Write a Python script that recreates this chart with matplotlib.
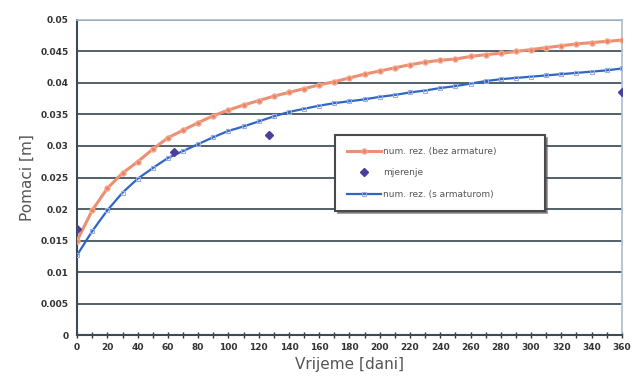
import numpy as np
import matplotlib
matplotlib.use('Agg')
import matplotlib.pyplot as plt
from matplotlib.ticker import MultipleLocator

# Time steps of the numerical results [days]
days = list(range(0, 361, 10))

# Displacement without reinforcement [m]
bez_armature = [0.0150, 0.0198, 0.0233, 0.0257, 0.0275, 0.0295, 0.0313, 0.0325,
                0.0337, 0.0348, 0.0357, 0.0365, 0.0372, 0.0379, 0.0385, 0.0391,
                0.0397, 0.0402, 0.0408, 0.0414, 0.0419, 0.0424, 0.0429, 0.0433,
                0.0436, 0.0438, 0.0442, 0.0445, 0.0447, 0.0450, 0.0453, 0.0456,
                0.0459, 0.0462, 0.0464, 0.0466, 0.0468]

# Displacement with reinforcement [m]
s_armaturom = [0.0127, 0.0165, 0.0198, 0.0226, 0.0248, 0.0265, 0.0281, 0.0292,
               0.0303, 0.0314, 0.0324, 0.0331, 0.0339, 0.0347, 0.0354, 0.0359,
               0.0364, 0.0368, 0.0371, 0.0374, 0.0378, 0.0381, 0.0385, 0.0388,
               0.0392, 0.0395, 0.0399, 0.0403, 0.0406, 0.0408, 0.0410, 0.0412,
               0.0414, 0.0416, 0.0418, 0.0420, 0.0423]

# Field measurements
mjerenje_dani = [0, 64, 127, 360]
mjerenje = [0.0168, 0.0291, 0.0317, 0.0386]

fig = plt.figure(figsize=(6.32, 3.91), dpi=100)
ax = fig.add_axes([0.122, 0.143, 0.862, 0.806])

grid_col = '#44545f'
ax.set_axisbelow(True)
ax.yaxis.grid(True, color=grid_col, linewidth=1.3)

ax.plot(days, bez_armature, color='#ec8f72', linewidth=2.2, marker='o',
        markersize=3.6, markerfacecolor='#e9825f', markeredgecolor='#f3a890',
        label='num. rez. (bez armature)', zorder=3)
ax.plot(mjerenje_dani, mjerenje, linestyle='none', marker='D', markersize=4.5,
        color='#4a3f9e', label='mjerenje', zorder=5)
ax.plot(days, s_armaturom, color='#2f66c4', linewidth=1.6, marker='s',
        markersize=3.5, markerfacecolor='none', markeredgecolor='#98aee2',
        markeredgewidth=0.8, label='num. rez. (s armaturom)', zorder=4)

ax.set_xlim(0, 360)
ax.set_ylim(0, 0.05)
ax.xaxis.set_major_locator(MultipleLocator(20))
ax.xaxis.set_minor_locator(MultipleLocator(10))
ax.yaxis.set_major_locator(MultipleLocator(0.005))
ax.set_yticklabels([f'{v:g}' for v in ax.get_yticks()])

ax.tick_params(axis='both', which='both', labelsize=6.5, colors='#333333',
               direction='inout', length=4, width=1)
ax.tick_params(axis='y', length=0, pad=6)
for lbl in ax.get_xticklabels() + ax.get_yticklabels():
    lbl.set_fontweight('bold')

for side in ['left', 'bottom']:
    ax.spines[side].set_color('#3b4b57')
    ax.spines[side].set_linewidth(1.5)
for side in ['top', 'right']:
    ax.spines[side].set_color('#a9bccb')
    ax.spines[side].set_linewidth(1.2)

ax.set_xlabel('Vrijeme [dani]', fontsize=11, color='#555555', labelpad=4)
ax.set_ylabel('Pomaci [m]', fontsize=11, color='#555555', labelpad=4)

leg = ax.legend(loc='upper left', bbox_to_anchor=(0.473, 0.635, 0.385, 0.0),
                mode='expand', fontsize=6.5, frameon=True, fancybox=False,
                shadow=True, borderpad=1.3, labelspacing=1.4, handlelength=3.8,
                handletextpad=0.2, borderaxespad=0)
leg.get_frame().set_edgecolor('#4a4a4a')
leg.get_frame().set_linewidth(1.5)
for t in leg.get_texts():
    t.set_color('#555555')

fig.savefig('out.png', dpi=100)
